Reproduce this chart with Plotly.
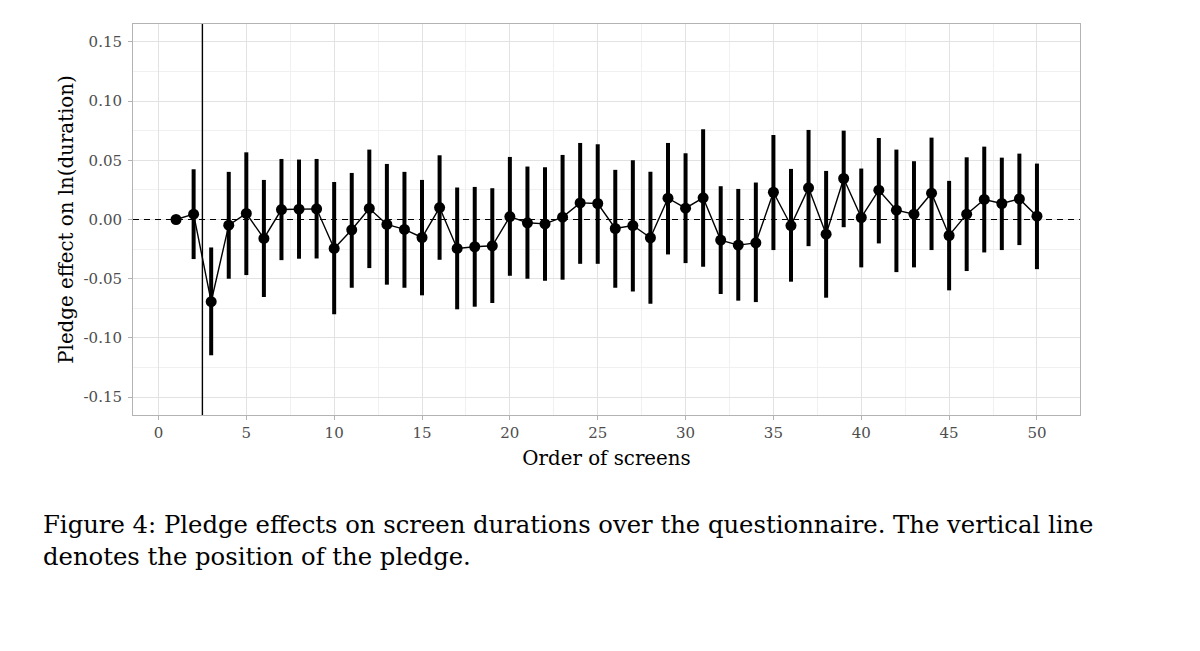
import plotly.graph_objects as go

# ---- data ----
screen_order = list(range(1, 51))
estimate = [0.000, 0.0045, -0.0694, -0.0048, 0.0051, -0.0160, 0.0084, 0.0087, 0.0090, -0.0244,
            -0.0087, 0.0093, -0.0042, -0.0084, -0.0152, 0.0101, -0.0244, -0.0230, -0.0222, 0.0025,
            -0.0028, -0.0037, 0.0020, 0.0140, 0.0135, -0.0076, -0.0051, -0.0154, 0.0180, 0.0096,
            0.0183, -0.0174, -0.0216, -0.0197, 0.0230, -0.0051, 0.0267, -0.0124, 0.0346, 0.0017,
            0.0247, 0.0079, 0.0045, 0.0222, -0.0135, 0.0045, 0.0169, 0.0135, 0.0174, 0.0028]
ci_upper = [0.000, 0.0424, -0.0236, 0.0402, 0.0567, 0.0334, 0.0511, 0.0506, 0.0511, 0.0317,
            0.0393, 0.0590, 0.0469, 0.0402, 0.0334, 0.0542, 0.0270, 0.0275, 0.0264, 0.0528,
            0.0447, 0.0441, 0.0545, 0.0646, 0.0635, 0.0419, 0.0500, 0.0402, 0.0646, 0.0559,
            0.0761, 0.0281, 0.0258, 0.0312, 0.0713, 0.0427, 0.0756, 0.0410, 0.0750, 0.0430,
            0.0688, 0.0590, 0.0492, 0.0691, 0.0326, 0.0525, 0.0615, 0.0522, 0.0556, 0.0472]
ci_lower = [0.000, -0.0334, -0.1146, -0.0500, -0.0469, -0.0654, -0.0343, -0.0331, -0.0329, -0.0800,
            -0.0576, -0.0410, -0.0550, -0.0576, -0.0640, -0.0340, -0.0758, -0.0736, -0.0705, -0.0475,
            -0.0500, -0.0517, -0.0508, -0.0374, -0.0374, -0.0576, -0.0607, -0.0711, -0.0295, -0.0368,
            -0.0399, -0.0629, -0.0685, -0.0697, -0.0258, -0.0525, -0.0225, -0.0660, -0.0065, -0.0404,
            -0.0202, -0.0444, -0.0404, -0.0258, -0.0598, -0.0435, -0.0278, -0.0258, -0.0216, -0.0419]
pledge_position = 2.5
reference_level = 0.0

x_tick_vals = [0, 5, 10, 15, 20, 25, 30, 35, 40, 45, 50]
y_tick_vals = [0.15, 0.10, 0.05, 0.00, -0.05, -0.10, -0.15]
y_tick_text = ["0.15", "0.10", "0.05", "0.00", "-0.05", "-0.10", "-0.15"]

x_title = "Order of screens"
y_title = "Pledge effect on ln(duration)"
caption_lines = [
    "Figure 4: Pledge effects on screen durations over the questionnaire. The vertical line",
    "denotes the position of the pledge.",
]

# ---- figure ----
FONT = "DejaVu Serif"
W, H = 1200, 651
OFF = 8  # page body offset of the rendered figure
ML, MR, MT, MB = 133 - OFF, 120 + OFF, 24 - OFF, 236 + OFF

err_plus = [u - e for u, e in zip(ci_upper, estimate)]
err_minus = [e - l for e, l in zip(estimate, ci_lower)]

fig = go.Figure()
fig.add_trace(go.Scatter(
    x=screen_order, y=estimate,
    mode="lines+markers",
    line=dict(color="black", width=1.4),
    marker=dict(color="black", size=11),
    error_y=dict(type="data", symmetric=False, array=err_plus, arrayminus=err_minus,
                 color="black", thickness=4, width=0),
    showlegend=False,
    hoverinfo="skip",
))

fig.add_hline(y=reference_level, line=dict(color="black", width=1.2, dash="6px,5px"),
              layer="above")
fig.add_vline(x=pledge_position, line=dict(color="black", width=1.4), layer="above")

plot_h = H - MT - MB
plot_w = W - ML - MR


def py(p):
    # p: target page pixel y
    return (H - MB - (p - OFF)) / plot_h


def px(p):
    return ((p - OFF) - ML) / plot_w


for line, ycen in zip(caption_lines, [524, 556]):
    fig.add_annotation(text=line, xref="paper", yref="paper", x=px(41), y=py(ycen),
                       xanchor="left", yanchor="middle", showarrow=False,
                       font=dict(family=FONT, size=24.3, color="black"))

axis_common = dict(
    showline=True, mirror=True, linecolor="#b3b3b3", linewidth=1,
    ticks="outside", ticklen=4, tickcolor="#b3b3b3", tickwidth=1,
    tickfont=dict(family=FONT, size=15, color="#4d4d4d"),
    gridcolor="#e2e2e2", gridwidth=1, zeroline=False,
)

fig.update_xaxes(
    range=[-1.45, 52.45], tickvals=x_tick_vals,
    minor=dict(dtick=2.5, tick0=0, showgrid=True, gridcolor="#f0f0f0", gridwidth=1, ticks=""),
    title=dict(text=x_title, font=dict(family=FONT, size=19.8, color="black"), standoff=10),
    **axis_common,
)
fig.update_yaxes(
    range=[-0.165, 0.165], tickvals=y_tick_vals, ticktext=y_tick_text,
    minor=dict(dtick=0.025, tick0=0, showgrid=True, gridcolor="#f0f0f0", gridwidth=1, ticks=""),
    title=dict(text=y_title, font=dict(family=FONT, size=19.8, color="black"), standoff=4),
    ticklabelstandoff=3,
    **axis_common,
)

fig.update_layout(
    width=W, height=H,
    margin=dict(l=ML, r=MR, t=MT, b=MB, autoexpand=False),
    paper_bgcolor="white", plot_bgcolor="white",
    font=dict(family=FONT),
)

fig.write_html("out.html")
